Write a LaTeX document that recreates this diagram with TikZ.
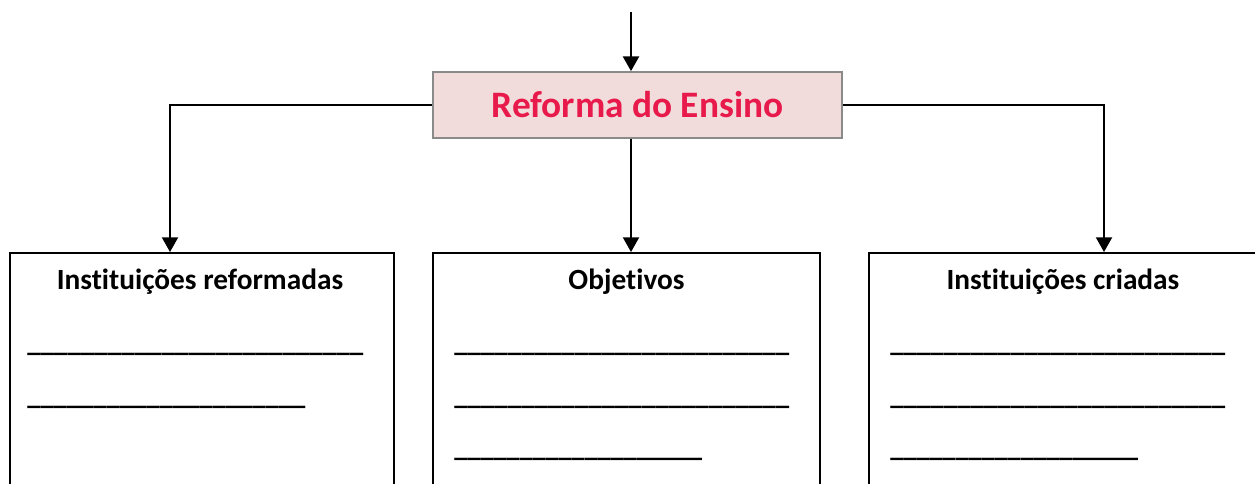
\documentclass[tikz,border=0pt]{standalone}
\usepackage{fontspec}
\setmainfont{Carlito}[Ligatures=NoCommon]
\usepackage{graphicx}
\usetikzlibrary{arrows.meta}
\definecolor{boxfill}{HTML}{F2DCDB}
\definecolor{boxedge}{HTML}{8A8A8A}
\definecolor{titlered}{HTML}{E8194B}
\tikzset{
  conn/.style={line width=1.5pt, -{Triangle[width=12pt,length=11pt]}},
  mainbox/.style={draw=boxedge, fill=boxfill, line width=1.3pt, minimum width=306.75pt, minimum height=49.5pt, inner sep=0pt, text=titlered, font=\fontsize{28}{33}\selectfont\bfseries},
  outbox/.style={draw=black, line width=1.8pt, minimum height=300pt, anchor=north, inner sep=0pt},
  boxtitle/.style={inner sep=0pt, font=\fontsize{22}{26}\selectfont\bfseries},
  ulline/.style={anchor=base west, inner sep=0pt, font=\fontsize{22}{26}\selectfont\bfseries}
}
\newcommand{\ulfill}[2]{\resizebox*{#1}{\totalheight}{#2}}
\begin{document}
\begin{tikzpicture}[x=0.75pt,y=-0.75pt]
\useasboundingbox (0,0) rectangle (1255,483);
\clip (0,0) rectangle (1255,483);
% main box
\node[mainbox] (main) at (637.5,105) {Reforma do Ensino};
% outer boxes
\node[outbox, minimum width=288pt] (left) at (202,252) {};
\node[outbox, minimum width=290.25pt] (mid) at (626.5,252) {};
\node[outbox, minimum width=291pt] (right) at (1063,252) {};
% titles
\node[boxtitle] (lt) at (200,282) {Instituições reformadas};
\node[boxtitle] (mt) at (626.5,282) {Objetivos};
\node[boxtitle] (rt) at (1063,282) {Instituições criadas};
% blank lines
\node[ulline] (l1) at (27,351) {\ulfill{252pt}{\_\_\_\_\_\_\_\_\_\_\_\_\_\_\_\_\_\_\_\_\_\_\_\_\_}};
\node[ulline] (l2) at (27,404) {\ulfill{208.5pt}{\_\_\_\_\_\_\_\_\_\_\_\_\_\_\_\_\_\_\_\_\_}};
\node[ulline] (m1) at (454,351) {\ulfill{251.25pt}{\_\_\_\_\_\_\_\_\_\_\_\_\_\_\_\_\_\_\_\_\_\_\_\_\_}};
\node[ulline] (m2) at (454,404) {\ulfill{251.25pt}{\_\_\_\_\_\_\_\_\_\_\_\_\_\_\_\_\_\_\_\_\_\_\_\_\_}};
\node[ulline] (m3) at (454,456) {\ulfill{186pt}{\_\_\_\_\_\_\_\_\_\_\_\_\_\_\_\_\_\_\_}};
\node[ulline] (r1) at (890,351) {\ulfill{251.25pt}{\_\_\_\_\_\_\_\_\_\_\_\_\_\_\_\_\_\_\_\_\_\_\_\_\_}};
\node[ulline] (r2) at (890,404) {\ulfill{251.25pt}{\_\_\_\_\_\_\_\_\_\_\_\_\_\_\_\_\_\_\_\_\_\_\_\_\_}};
\node[ulline] (r3) at (890,456) {\ulfill{186pt}{\_\_\_\_\_\_\_\_\_\_\_\_\_\_\_\_\_\_\_}};
% connectors
\coordinate (axis) at (631,12);
\draw[conn] (axis) -- (axis |- main.north);
\draw[conn] (axis |- main.south) -- (axis |- mid.north);
\draw[conn] (main.west) -| ([xshift=-24pt]left.north);
\draw[conn] (main.east) -| ([xshift=30.75pt]right.north);
\end{tikzpicture}
\end{document}
